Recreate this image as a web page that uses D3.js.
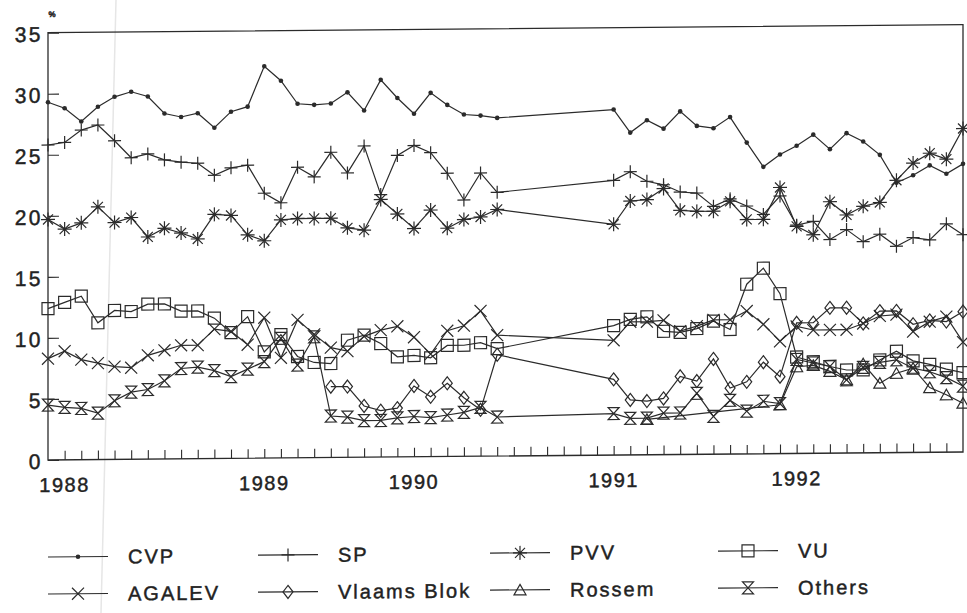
<!DOCTYPE html>
<html>
<head>
<meta charset="utf-8">
<script src="https://cdn.jsdelivr.net/npm/d3@7"></script>
<style>
  body { margin: 0; background: #fff; }
  svg { display: block; }
  text { font-family: "Liberation Sans", Arial, sans-serif; fill: #222; stroke: #222; stroke-width: 0.45px; }
</style>
</head>
<body>
<svg id="chart" width="967" height="613"></svg>
<script>
// ─── DATA ─────────────────────────────────────────────────────────────────────
// one value per poll (index 0..55 along the x axis), null = no poll published
const cvp = [29.3, 28.8, 27.7, 28.9, 29.7, 30.1, 29.7, 28.3, 28.0, 28.3, 27.1, 28.4, 28.8, 32.1, 30.9, 29.0,
  28.9, 29.0, 29.9, 28.4, 30.9, 29.4, 28.1, 29.8, 28.8, 28.0, 27.9, 27.7, null, null, null, null, null, null,
  28.3, 26.4, 27.4, 26.7, 28.1, 26.9, 26.7, 27.6, 25.5, 23.5, 24.5, 25.2, 26.1, 24.9, 26.2, 25.5, 24.4, 22.1,
  22.7, 23.5, 22.8, 23.6];
const sp = [25.8, 26.0, 27.0, 27.4, 26.1, 24.7, 25.0, 24.5, 24.3, 24.2, 23.2, 23.8, 24.0, 21.7, 20.9, 23.8,
  23.0, 25.0, 23.3, 25.5, 21.5, 24.7, 25.5, 24.9, 23.2, 21.0, 23.2, 21.6, null, null, null, null, null, null,
  22.5, 23.2, 22.4, 22.1, 21.5, 21.4, 20.3, 20.9, 20.3, 19.6, 21.1, 18.7, 19.0, 17.5, 18.3, 17.3, 17.9, 16.9,
  17.6, 17.4, 18.7, 17.8];
const pvv = [19.7, 18.9, 19.4, 20.7, 19.4, 19.8, 18.2, 18.9, 18.5, 18.0, 20.0, 19.9, 18.3, 17.8, 19.5, 19.6,
  19.6, 19.6, 18.8, 18.6, 21.1, 19.9, 18.7, 20.2, 18.7, 19.4, 19.6, 20.2, null, null, null, null, null, null,
  18.9, 20.8, 20.9, 21.8, 20.0, 19.9, 19.9, 20.7, 19.2, 19.2, 21.8, 18.6, 17.9, 20.6, 19.5, 20.2, 20.5, 22.3,
  23.7, 24.5, 24.0, 26.5];
const vu = [12.4, 12.9, 13.4, 11.2, 12.2, 12.1, 12.7, 12.7, 12.1, 12.1, 11.5, 10.3, 11.6, 8.7, 10.1, 8.3,
  7.8, 7.7, 9.6, 10.0, 9.3, 8.2, 8.3, 8.1, 9.1, 9.1, 9.3, 8.8, null, null, null, null, null, null,
  10.6, 11.1, 11.3, 10.1, 10.0, 10.3, 10.9, 10.2, 13.9, 15.2, 13.1, 7.9, 7.5, 7.1, 6.8, 6.8, 7.6, 8.3,
  7.5, 7.2, 6.8, 6.5];
const agalev = [8.3, 8.9, 8.2, 7.9, 7.6, 7.5, 8.5, 8.9, 9.3, 9.3, 10.6, 10.4, 9.3, 11.5, 8.2, 11.3,
  10.1, 9.0, 8.7, 9.9, 10.4, 10.7, 9.8, 8.4, 10.3, 10.7, 11.9, 9.9, null, null, null, null, null, null,
  9.4, 10.9, 10.9, 11.0, 10.1, 10.5, 11.0, 11.0, 11.7, 10.6, 9.2, 10.4, 10.1, 10.1, 10.1, 10.6, 11.2, 11.3,
  9.9, 10.7, 11.1, 9.0];
const vlaamsBlok = [null, null, null, null, null, null, null, null, null, null, null, null, null, null, null, null,
  null, 5.8, 5.8, 4.2, 3.8, 4.0, 5.8, 4.9, 6.0, 4.8, 3.8, 8.3, null, null, null, null, null, null,
  6.2, 4.5, 4.4, 4.6, 6.4, 6.0, 7.8, 5.4, 5.9, 7.5, 6.3, 10.7, 10.7, 11.9, 11.9, 10.6, 11.6, 11.6,
  10.5, 10.8, 10.7, 11.5];
const rossem = [null, null, null, null, null, null, null, null, null, null, null, null, null, null, null, null,
  null, null, null, null, null, null, null, null, null, null, null, null, null, null, null, null, null, null,
  null, null, 2.9, null, null, null, null, null, null, null, 4.0, 7.1, 7.2, 6.7, 6.0, 7.3, 5.7, 6.5,
  6.9, 5.3, 4.7, 4.0];
const others = [4.5, 4.3, 4.2, 3.8, 4.8, 5.5, 5.7, 6.4, 7.4, 7.5, 7.2, 6.7, 7.3, 7.9, 9.8, 7.6,
  9.9, 3.4, 3.3, 3.0, 3.0, 3.2, 3.3, 3.2, 3.4, 3.6, 4.0, 3.2, null, null, null, null, null, null,
  3.4, 3.0, 3.0, 3.4, 3.4, 5.0, 3.1, 4.4, 3.5, 4.3, 4.1, 7.7, 7.4, 7.1, 6.0, 7.0, 7.4, 7.6,
  6.9, 6.6, 6.1, 5.4];

const seriesNames = ['CVP', 'SP', 'PVV', 'VU', 'AGALEV', 'Vlaams Blok', 'Rossem', 'Others'];
const seriesValues = [cvp, sp, pvv, vu, agalev, vlaamsBlok, rossem, others];
const seriesMarks = ['dot', 'plus', 'star', 'square', 'cross', 'diamond', 'triangle', 'hourglass'];

const yTicks = [0, 5, 10, 15, 20, 25, 30, 35];
const yearLabels = ['1988', '1989', '1990', '1991', '1992'];
const yearAt = [1, 13, 22, 34, 45];        // poll index where each year label sits
const lastIndex = 55;
// ──────────────────────────────────────────────────────────────────────────────

const ink = '#2b2b2b';
const plot = { left: 48, right: 963, top: 32.7, bottom: 460 };

const svg = d3.select('#chart');

// faint fold line from the scanned original
svg.append('line')
  .attr('x1', 116).attr('y1', 0).attr('x2', 101).attr('y2', 613)
  .attr('stroke', '#e6e6e6').attr('stroke-width', 1.5);

// the scan is slightly skewed: right side sits ~8px higher
const g = svg.append('g')
  .attr('transform', `matrix(1,-0.00874,0,1,0,${(0.00874 * plot.left).toFixed(2)})`);

const x = d3.scaleLinear().domain([0, lastIndex]).range([plot.left, plot.right]);
const y = d3.scaleLinear().domain([0, 35]).range([plot.bottom, plot.top]);

// ─── AXES ─────────────────────────────────────────────────────────────────────
const xAxis = g.append('g')
  .attr('transform', `translate(0,${plot.bottom})`)
  .call(d3.axisBottom(x).tickValues(d3.range(1, lastIndex)).tickSize(-9).tickFormat(''));

const yAxis = g.append('g')
  .attr('transform', `translate(${plot.left},0)`)
  .call(d3.axisLeft(y).tickValues(yTicks).tickSize(-11).tickPadding(8).tickFormat(d3.format('d')));

[xAxis, yAxis].forEach((a) => {
  a.select('.domain').remove();
  a.selectAll('line').attr('stroke', ink).attr('stroke-width', 1.1);
});
yAxis.selectAll('text')
  .attr('font-size', 21).attr('letter-spacing', 2.5).attr('dx', 3).attr('dy', '0.4em')
  .attr('fill', '#222');

g.append('rect')
  .attr('x', plot.left).attr('y', plot.top)
  .attr('width', plot.right - plot.left).attr('height', plot.bottom - plot.top)
  .attr('fill', 'none').attr('stroke', ink).attr('stroke-width', 1.3);

g.append('text')
  .attr('x', 52).attr('y', 17)
  .attr('font-size', 8).attr('font-weight', 'bold').attr('text-anchor', 'middle')
  .text('%');

g.selectAll('text.year')
  .data(yearLabels)
  .join('text')
  .attr('class', 'year')
  .attr('x', (d, i) => x(yearAt[i]))
  .attr('y', plot.bottom + 32)
  .attr('text-anchor', 'middle')
  .attr('font-size', 20).attr('letter-spacing', 1.5)
  .text((d) => d);

// ─── MARKERS ──────────────────────────────────────────────────────────────────
function markPath(kind) {
  switch (kind) {
    case 'plus': return 'M-6.5,0H6.5M0,-6.5V6.5';
    case 'star': return 'M-7,0H7M0,-7V7M-5,-5L5,5M-5,5L5,-5';
    case 'square': return 'M-6,-6H6V6H-6Z';
    case 'cross': return 'M-6,-6L6,6M-6,6L6,-6';
    case 'diamond': return 'M0,-6.5L5,0L0,6.5L-5,0Z';
    case 'triangle': return 'M0,-5.5L6,5L-6,5Z';
    case 'hourglass': return 'M-5.5,-6H5.5L-5.5,6H5.5Z';
    default: return '';
  }
}

function drawMark(sel, kind) {
  if (kind === 'dot') {
    sel.append('circle').attr('r', 2.3).attr('fill', ink);
  } else {
    sel.append('path').attr('d', markPath(kind))
      .attr('fill', 'none').attr('stroke', ink).attr('stroke-width', 1.2);
  }
}

// ─── SERIES ───────────────────────────────────────────────────────────────────
const line = d3.line().x((d) => x(d.i)).y((d) => y(d.v));

seriesValues.forEach((vals, s) => {
  const pts = vals.map((v, i) => ({ i, v })).filter((d) => d.v !== null);
  const sg = g.append('g');
  sg.append('path')
    .datum(pts)
    .attr('d', line)
    .attr('fill', 'none').attr('stroke', ink).attr('stroke-width', 1.2);
  sg.selectAll('g.mark')
    .data(pts)
    .join('g')
    .attr('class', 'mark')
    .attr('transform', (d) => `translate(${x(d.i)},${y(d.v)})`)
    .each(function () { drawMark(d3.select(this), seriesMarks[s]); });
});

// ─── LEGEND ───────────────────────────────────────────────────────────────────
const legendCols = [48, 258, 490, 718];
const legendRows = [557, 594];

const legend = g.selectAll('g.legend')
  .data(seriesNames)
  .join('g')
  .attr('class', 'legend')
  .attr('transform', (d, i) => `translate(${legendCols[i % 4]},${legendRows[Math.floor(i / 4)]})`);

legend.append('line')
  .attr('x1', 0).attr('x2', 60)
  .attr('stroke', ink).attr('stroke-width', 1.2);
legend.append('g')
  .attr('transform', 'translate(30,0)')
  .each(function (d, i) { drawMark(d3.select(this), seriesMarks[i]); });
legend.append('text')
  .attr('x', 80).attr('dy', '0.36em')
  .attr('font-size', 20).attr('letter-spacing', 2)
  .text((d) => d);
</script>
</body>
</html>
